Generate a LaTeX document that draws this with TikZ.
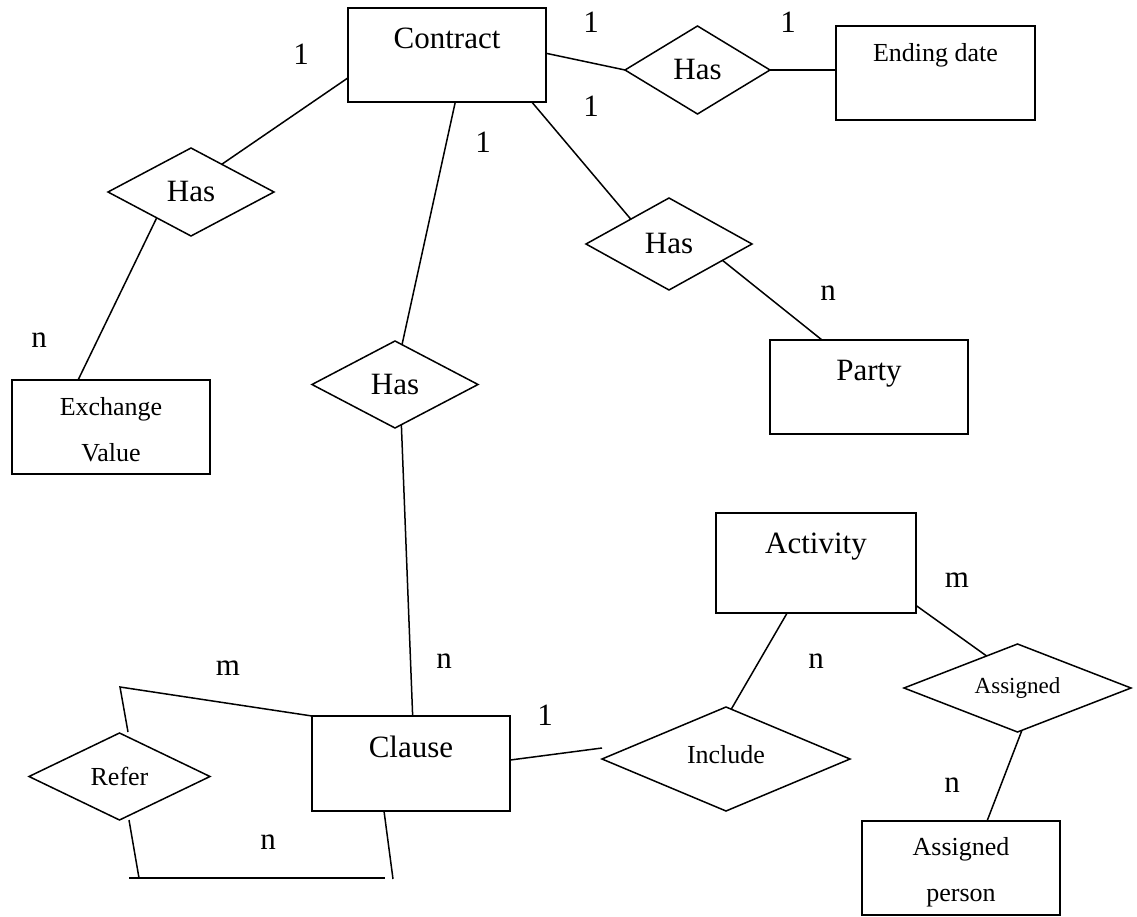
\documentclass[tikz,border=0pt]{standalone}
\usepackage{fontspec}
\setmainfont{Liberation Serif}
\usetikzlibrary{shapes.geometric}
\begin{document}
\begin{tikzpicture}[x=1pt,y=-1pt,
  every node/.style={inner sep=0pt, outer sep=0pt},
  ent/.style={draw, line width=1.5pt, rectangle, minimum width=198pt, minimum height=94pt},
  rel/.style={draw, line width=1.5pt, diamond},
  conn/.style={line width=1.5pt},
  big/.style={font=\fontsize{31}{37}\selectfont},
  small/.style={font=\fontsize{26}{46}\selectfont},
  tiny/.style={font=\fontsize{23}{28}\selectfont},
  card/.style={big, anchor=base},
]
\useasboundingbox (0,0) rectangle (1137,917);

% entities
\node[ent, big, text height=41pt, text depth=53pt] (contract) at (447,55) {Contract};
\node[ent, small, minimum width=199pt, text height=36pt, text depth=58pt] (ending) at (935.5,73) {Ending date};
\node[ent, big, text height=40pt, text depth=54pt] (party) at (869,387) {Party};
\node[ent, small, text height=35pt, text depth=59pt] (exch) at (111,427)
  {\begin{tabular}[t]{@{}c@{}}Exchange\\Value\end{tabular}};
\node[ent, big, minimum width=200pt, minimum height=100pt, text height=40pt, text depth=60pt] (activity) at (816,563) {Activity};
\node[ent, big, minimum height=95pt, text height=41pt, text depth=54pt] (clause) at (411,763.5) {Clause};
\node[ent, small, text height=34pt, text depth=60pt] (ap) at (961,868)
  {\begin{tabular}[t]{@{}c@{}}Assigned\\person\end{tabular}};

% relationships
\node[rel, big, minimum width=166pt, minimum height=88pt, shape aspect=1.886] (has1) at (191,192) {Has};
\node[rel, big, minimum width=145pt, minimum height=88pt, shape aspect=1.65] (has2) at (697.5,70) {Has};
\node[rel, big, minimum width=166pt, minimum height=92pt, shape aspect=1.8] (hasp) at (669,244) {Has};
\node[rel, big, minimum width=166pt, minimum height=87pt, shape aspect=1.9] (has3) at (395,384.5) {Has};
\node[rel, tiny, minimum width=227pt, minimum height=88pt, shape aspect=2.58] (assigned) at (1017.5,688) {Assigned};
\node[rel, small, minimum width=248pt, minimum height=104pt, shape aspect=2.385, text height=18pt, text depth=10pt] (include) at (726,759) {Include};
\node[rel, small, minimum width=181pt, minimum height=87pt, shape aspect=2.08] (refer) at (119.5,776.5) {Refer};

% connectors
\draw[conn] (contract.193.6) -- (has1.42);
\draw[conn] (has1.217.7) -- (exch.125.9);
\draw[conn] (contract.280.8) -- (has3.80.9);
\draw[conn] (has3.279.1) -- (clause.88.8);
\draw[conn] (contract.1.7) -- (has2.west);
\draw[conn] (has2.east) -- (has2.east -| ending.west);
\draw[conn] (contract.331.1) -- (hasp.147.5);
\draw[conn] (hasp.343.8) -- (party.135);
\draw[conn] (activity.240.8) -- (include.84.6);
\draw[conn] (clause.2) -- ([yshift=11pt]include.west);
\draw[conn] (activity.337.7) -- (assigned.134.5);
\draw[conn] (assigned.276.1) -- (ap.61);
\draw[conn] ([xshift=8.5pt,yshift=1pt]refer.north) -- ++(-8,-45) -- (clause.north west);
\draw[conn] ([xshift=9.5pt]refer.south) -- ++(10,58);
\draw[conn] ([xshift=-27pt]clause.south) -- ++(9,68);
\coordinate (bl) at (129,878);
\coordinate (br) at (385,878);
\draw[conn] (bl) -- (br);

% cardinalities
\node[card] (c1) at (301,65) {1};
\node[card] (c2) at (591,33) {1};
\node[card] (c3) at (788,33) {1};
\node[card] (c4) at (591,117) {1};
\node[card] (c5) at (483,153) {1};
\node[card] (c6) at (828,300) {n};
\node[card] (c7) at (39,347) {n};
\node[card] (c8) at (228,675) {m};
\node[card] (c9) at (444,668) {n};
\node[card] (c10) at (268,849) {n};
\node[card] (c11) at (545,725) {1};
\node[card] (c12) at (816,668) {n};
\node[card] (c13) at (957,587) {m};
\node[card] (c14) at (952,792) {n};
\end{tikzpicture}
\end{document}
